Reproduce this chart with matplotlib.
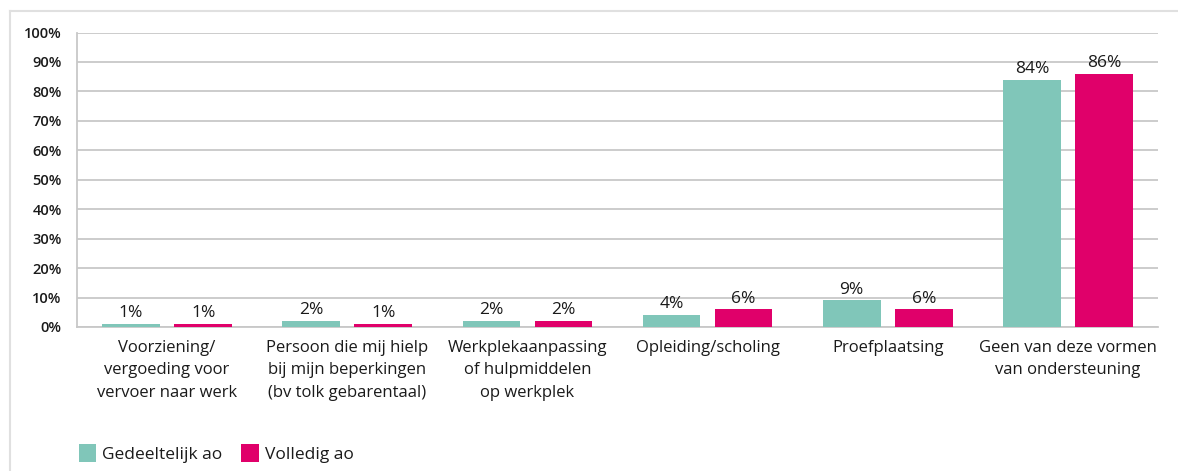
import numpy as np
import matplotlib.pyplot as plt
from matplotlib.lines import Line2D

categories = [
    "Voorziening/\nvergoeding voor\nvervoer naar werk",
    "Persoon die mij hielp\nbij mijn beperkingen\n(bv tolk gebarentaal)",
    "Werkplekaanpassing\nof hulpmiddelen\nop werkplek",
    "Opleiding/scholing",
    "Proefplaatsing",
    "Geen van deze vormen\nvan ondersteuning",
]
gedeeltelijk = [1, 2, 2, 4, 9, 84]
volledig = [1, 1, 2, 6, 6, 86]
series_names = ["Gedeeltelijk ao", "Volledig ao"]
colors = ["#80c6b9", "#e0006a"]

plt.rcParams["font.family"] = ["Open Sans", "DejaVu Sans"]

W, H = 1178, 471
fig = plt.figure(figsize=(W / 100, H / 100), dpi=100)
ax = fig.add_axes([77 / W, 1 - 327 / H, (1158 - 77) / W, (327 - 32.5) / H])

x = np.arange(len(categories))
width = 0.32
offset = 0.2
for vals, name, col, off in zip([gedeeltelijk, volledig], series_names, colors, [-offset, offset]):
    bars = ax.bar(x + off, vals, width, color=col, label=name, zorder=3)
    for b, v in zip(bars, vals):
        ax.annotate(f"{v}%", (b.get_x() + b.get_width() / 2, v), xytext=(0, 2),
                    textcoords="offset points", ha="center", va="bottom",
                    fontsize=12.5, color="#1a1a1a")

ax.set_xlim(-0.5, len(categories) - 0.5)
ax.set_ylim(0, 100)
ax.set_yticks(range(0, 101, 10))
ax.set_yticklabels([f"{t}%" for t in range(0, 101, 10)], fontsize=10.5,
                   fontweight="semibold", color="#1a1a1a")
ax.yaxis.grid(True, color="#c8c8c8", linewidth=1.3, zorder=0)
ax.set_axisbelow(True)
for s in ["top", "right"]:
    ax.spines[s].set_visible(False)
for s in ["left", "bottom"]:
    ax.spines[s].set_color("#c8c8c8")
    ax.spines[s].set_linewidth(1.3)
ax.tick_params(axis="y", length=0, pad=11)
ax.tick_params(axis="x", length=0, pad=9)
ax.set_xticks(x)
ax.set_xticklabels(categories, fontsize=12, color="#1a1a1a", linespacing=1.55)

ax.legend(loc="upper left", bbox_to_anchor=(-0.013, -0.345), ncol=2, frameon=False,
          fontsize=12.5, handlelength=1.0, handleheight=1.2, handletextpad=0.35,
          columnspacing=1.1, labelcolor="#1a1a1a")

# light frame around the figure
fig.add_artist(Line2D([10 / W, 1], [1 - 11 / H, 1 - 11 / H], color="#e0e0e0", lw=1.5))
fig.add_artist(Line2D([10 / W, 10 / W], [0, 1 - 11 / H], color="#e0e0e0", lw=1.5))

fig.savefig("out.png", dpi=100)
